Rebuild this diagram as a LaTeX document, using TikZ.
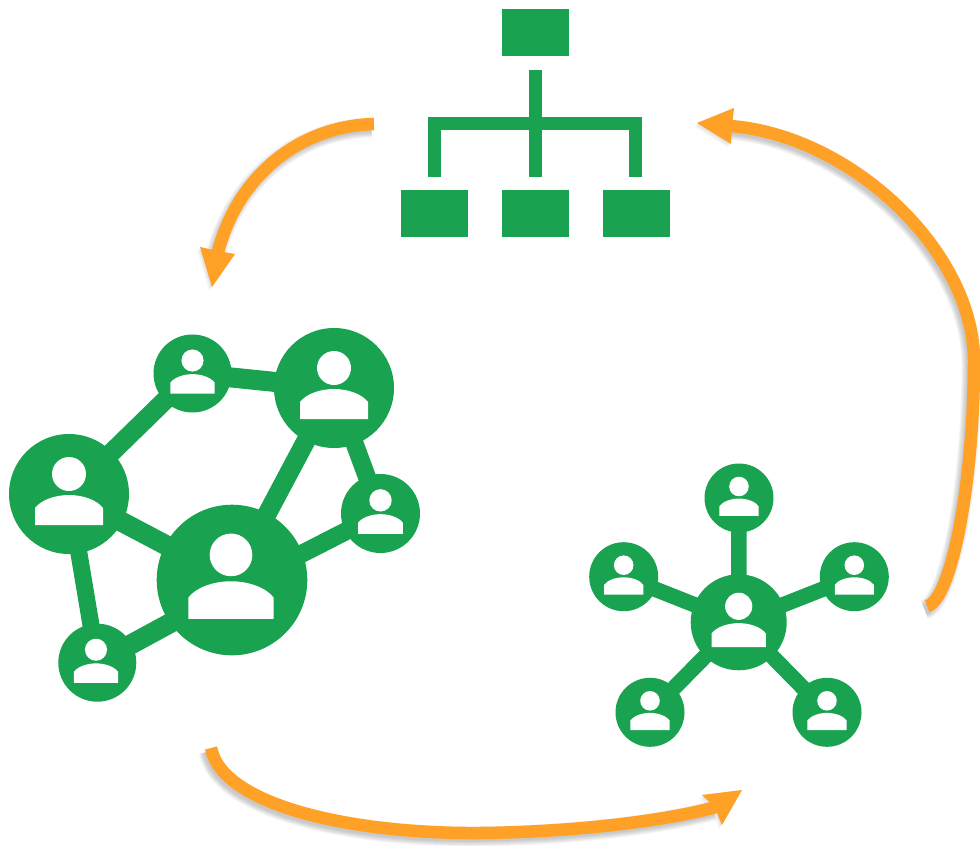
\documentclass[tikz,border=0pt]{standalone}
\definecolor{grn}{HTML}{19A24F}
\definecolor{org}{HTML}{FFA126}
\tikzset{
  x=1pt,y=-1pt,
  person/.style={circle,fill=grn,inner sep=0pt,outer sep=0pt},
  link/.style={draw=grn,line cap=butt},
  box/.style={rectangle,fill=grn,inner sep=0pt,outer sep=0pt,minimum width=67pt,minimum height=47pt},
  orgline/.style={draw=grn,line width=13pt},
  flow/.style={draw=org,line width=12.5pt},
  flowhead/.style={fill=org},
  shade/.style={draw=black!70,opacity=.055},
  shadehead/.style={fill=black!70,opacity=.05},
}
% name, x, y, radius
\newcommand{\pnode}[4]{\node[person,minimum size=#4*2pt] (#1) at (#2,#3) {};}
\newcommand{\pface}[4]{%
  \begin{scope}[shift={(#2,#3)},scale=#4/60]
    \fill[white] (0,-20) circle[radius=17];
    \fill[white] (-34,31) -- (-34,14) .. controls (-28,6) and (-14,1) .. (0,1)
      .. controls (14,1) and (28,6) .. (34,14) -- (34,31) -- cycle;
  \end{scope}}
% curve, arrow head polygon
\newcommand{\flowpath}[2]{%
  \foreach \w in {20,18,16,14,12,10}{%
    \draw[shade,line width=\w pt,shift={(-2.5,3.5)}] #1;}
  \foreach \s in {0,1,2,3}{%
    \fill[shadehead,shift={(-\s*.9,\s*1.2)}] #2 -- cycle;}
  \draw[flow] #1;
  \fill[flowhead] #2 -- cycle;}
\begin{document}
\begin{tikzpicture}
\useasboundingbox (0,0) rectangle (980,846);
\fill[white] (0,0) rectangle (980,846);

% arrows
\flowpath{(374,124) .. controls (300,126) and (238,175) .. (218,252)}{(200,247) -- (218,251) -- (235,254) -- (212,287)}
\flowpath{(927,606) .. controls (952,600) and (974,480) .. (974,360) .. controls (973,250) and (850,135) .. (730,126)}{(697,123) -- (734,108) -- (732,126) -- (731,144)}
\flowpath{(211,748) .. controls (222,805) and (350,834) .. (480,833) .. controls (570,832) and (660,822) .. (716,807)}{(742,790) -- (722,825) -- (714,806) -- (702,795)}

% org chart
\node[box] (t) at (535.5,32.5) {};
\node[box] (b1) at (434.5,213.5) {};
\node[box] (b2) at (535.5,213.5) {};
\node[box] (b3) at (636.5,213.5) {};
\coordinate (ttop) at (535.5,70);
\coordinate (busl) at (434.5,123.5);
\coordinate (busr) at (635.5,123.5);
\coordinate (e1) at (434.5,177);
\coordinate (e2) at (535.5,177);
\coordinate (e3) at (635.5,177);
\draw[orgline] (ttop) -- (e2);
\draw[orgline,line join=miter] (e1) -- (busl) -- (busr) -- (e3);

% left network
\pnode{A}{69}{494}{60}
\pnode{B}{192.5}{373.5}{39}
\pnode{C}{334}{388}{60}
\pnode{D}{380.5}{513.5}{39.5}
\pnode{E}{232}{580}{75.3}
\pnode{F}{97.3}{662.7}{39}
\coordinate (Elow) at (232,589.5);
\draw[link,line width=19pt] (A.center) -- (B.center);
\draw[link,line width=20pt] (B.center) -- (C.center);
\draw[link,line width=19pt] (C.center) -- (E.center);
\draw[link,line width=18pt] (C.center) -- (D.center);
\draw[link,line width=18pt] (D.center) -- (Elow);
\draw[link,line width=20pt] (A.center) -- (E.center);
\draw[link,line width=17pt] (A.center) -- (F.center);
\draw[link,line width=20pt] (F.center) -- (Elow);
\pface{A}{69}{494}{60}
\pface{B}{192.5}{373.5}{39}
\pface{C}{334}{388}{60}
\pface{D}{380.5}{513.5}{39.5}
\pface{E}{231}{580}{75.3}
\pface{F}{96}{662.7}{39}

% right network
\pnode{H}{738.7}{622.3}{48}
\pnode{N1}{739}{498}{34.5}
\pnode{N2}{623.7}{576.7}{34.5}
\pnode{N3}{854.3}{576.7}{34.5}
\pnode{N4}{650}{712.3}{34.5}
\pnode{N5}{827}{712.3}{34.5}
\foreach \n in {N1,N2,N3,N4,N5}{\draw[link,line width=15.5pt] (H.center) -- (\n.center);}
\pface{H}{738.7}{622.3}{48}
\pface{N1}{739}{498}{34.5}
\pface{N2}{623.7}{576.7}{34.5}
\pface{N3}{854.3}{576.7}{34.5}
\pface{N4}{650}{712.3}{34.5}
\pface{N5}{827}{712.3}{34.5}
\end{tikzpicture}
\end{document}
